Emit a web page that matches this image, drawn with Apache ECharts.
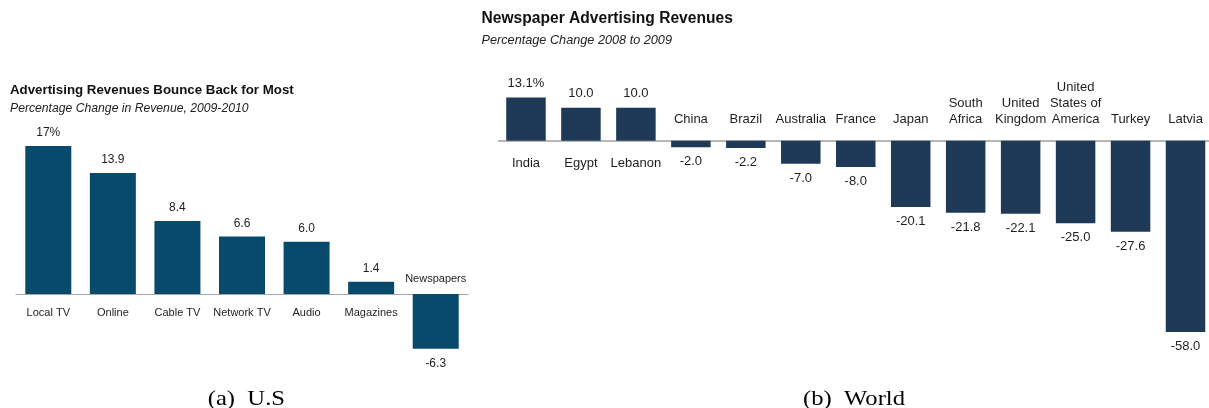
<!DOCTYPE html>
<html>
<head>
<meta charset="utf-8">
<script src="https://cdn.jsdelivr.net/npm/echarts@6/dist/echarts.min.js"></script>
<style>
html,body{margin:0;padding:0;background:#fff;}
#chart{width:1209px;height:408px;}
</style>
</head>
<body>
<div id="chart"></div>
<script>
const usCategories = ['Local TV','Online','Cable TV','Network TV','Audio','Magazines','Newspapers'];
const usValues = [17, 13.9, 8.4, 6.6, 6.0, 1.4, -6.3];
const usValueLabels = ['17%','13.9','8.4','6.6','6.0','1.4','-6.3'];

const worldCategories = ['India','Egypt','Lebanon','China','Brazil','Australia','France','Japan','South\nAfrica','United\nKingdom','United\nStates of\nAmerica','Turkey','Latvia'];
const worldValues = [13.1, 10.0, 10.0, -2.0, -2.2, -7.0, -8.0, -20.1, -21.8, -22.1, -25.0, -27.6, -58.0];
const worldValueLabels = ['13.1%','10.0','10.0','-2.0','-2.2','-7.0','-8.0','-20.1','-21.8','-22.1','-25.0','-27.6','-58.0'];

const usTitle = 'Advertising Revenues Bounce Back for Most';
const usSubtitle = 'Percentage Change in Revenue, 2009-2010';
const worldTitle = 'Newspaper Advertising Revenues';
const worldSubtitle = 'Percentage Change 2008 to 2009';
const captions = ['(a)  U.S', '(b)  World'];

const SANS = '"Liberation Sans", Arial, sans-serif';
const SERIF = '"Liberation Serif", "Times New Roman", serif';

function catLabelSeries(idx, cats, vals, fontSize, offPos, offNeg, lh) {
  return {
    type: 'custom',
    xAxisIndex: idx, yAxisIndex: idx,
    clip: false,
    silent: true,
    data: vals.map((v, i) => [i, v]),
    encode: { x: 0, y: 1 },
    renderItem: function (params, api) {
      const i = api.value(0);
      const v = api.value(1);
      const p = api.coord([i, 0]);
      const pos = v >= 0;
      return {
        type: 'text',
        x: p[0],
        y: pos ? p[1] + offPos : p[1] - offNeg,
        style: {
          text: cats[i],
          textAlign: 'center',
          textVerticalAlign: pos ? 'top' : 'bottom',
          fontFamily: SANS,
          fontSize: fontSize,
          lineHeight: lh,
          fill: '#1e1e1e'
        }
      };
    }
  };
}

function barSeries(idx, vals, labels, color, barWidth, fontSize, dPos, dNeg) {
  return {
    type: 'bar',
    xAxisIndex: idx, yAxisIndex: idx,
    barWidth: barWidth,
    itemStyle: { color: color },
    data: vals.map((v, i) => ({
      value: v,
      label: { position: v >= 0 ? 'top' : 'bottom', distance: v >= 0 ? dPos : dNeg }
    })),
    label: {
      show: true,
      fontFamily: SANS,
      fontSize: fontSize,
      color: '#1e1e1e',
      formatter: p => labels[p.dataIndex]
    }
  };
}

const chart = echarts.init(document.getElementById('chart'), null, { renderer: 'canvas' });
chart.setOption({
  animation: false,
  backgroundColor: '#fff',
  grid: [
    { left: 16, top: 137.4, width: 452, height: 226.2, containLabel: false, outerBoundsMode: 'none' },
    { left: 498.5, top: 91.2, width: 714.5, height: 247.5, containLabel: false, outerBoundsMode: 'none' }
  ],
  xAxis: [
    { type: 'category', gridIndex: 0, data: usCategories,
      axisLine: { show: true, lineStyle: { color: '#a6a6a6', width: 1.2 } },
      axisTick: { show: false }, axisLabel: { show: false }, splitLine: { show: false } },
    { type: 'category', gridIndex: 1, data: worldCategories,
      axisLine: { show: true, lineStyle: { color: '#a0a0a0', width: 1.5 } },
      axisTick: { show: false }, axisLabel: { show: false }, splitLine: { show: false } }
  ],
  yAxis: [
    { type: 'value', gridIndex: 0, min: -8, max: 18, show: false, splitLine: { show: false } },
    { type: 'value', gridIndex: 1, min: -60, max: 15, show: false, splitLine: { show: false } }
  ],
  series: [
    barSeries(0, usValues, usValueLabels, '#084a6b', 46, 12, 7, 9),
    catLabelSeries(0, usCategories, usValues, 11, 12, 8.5, 13),
    barSeries(1, worldValues, worldValueLabels, '#1f3a57', 39.5, 13, 8, 8),
    catLabelSeries(1, worldCategories, worldValues, 13, 15, 13.5, 16)
  ],
  graphic: [
    { type: 'text', x: 10, y: 90.5, style: { text: usTitle, textVerticalAlign: 'middle', fontFamily: SANS, fontWeight: 'bold', fontSize: 13.3, fill: '#111' } },
    { type: 'text', x: 10, y: 108.5, style: { text: usSubtitle, textVerticalAlign: 'middle', fontFamily: SANS, fontStyle: 'italic', fontSize: 12.2, fill: '#222' } },
    { type: 'text', x: 481.5, y: 18.5, style: { text: worldTitle, textVerticalAlign: 'middle', fontFamily: SANS, fontWeight: 'bold', fontSize: 15.6, fill: '#111' } },
    { type: 'text', x: 481.5, y: 40.5, style: { text: worldSubtitle, textVerticalAlign: 'middle', fontFamily: SANS, fontStyle: 'italic', fontSize: 12.7, fill: '#222' } },
    { type: 'text', x: 207.7, y: 399, scaleX: 1.12, style: { text: captions[0], textVerticalAlign: 'middle', fontFamily: SERIF, fontSize: 22, fill: '#000' } },
    { type: 'text', x: 803, y: 399, scaleX: 1.12, style: { text: captions[1], textVerticalAlign: 'middle', fontFamily: SERIF, fontSize: 22, fill: '#000' } }
  ]
});
</script>
</body>
</html>
